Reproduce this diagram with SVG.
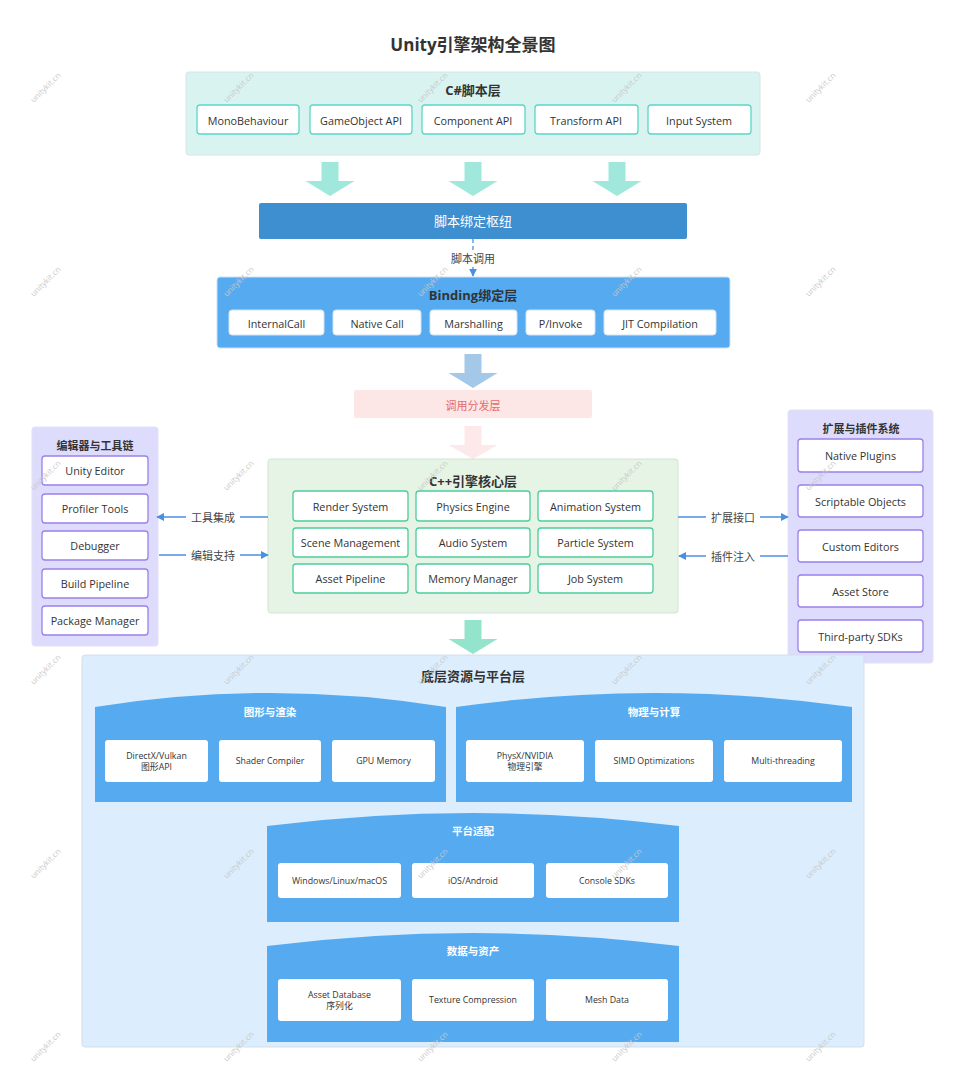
<svg xmlns="http://www.w3.org/2000/svg" width="965" height="1067" viewBox="0 0 965 1067">
<style>
text{font-family:"Open Sans","Noto Sans CJK SC",sans-serif;dominant-baseline:central;text-anchor:middle}
.title{font-size:17px;font-weight:bold;fill:#333}
.lt{font-size:13px;font-weight:bold;fill:#333}
.pt{font-size:11px;font-weight:bold;fill:#333}
.it{font-size:10.8px;fill:#333}
.st{font-size:10.5px;font-weight:bold;fill:#fff}
.bt{font-size:8.8px;fill:#333}
.cl{font-size:11px;fill:#444}
.wm{font-size:8px;fill:#c8c8c8}
.teal{fill:#fff;stroke:#5ad6c6;stroke-width:1.3}
.green{fill:#fff;stroke:#4ccd9c;stroke-width:1.3}
.purp{fill:#fff;stroke:#9a80e8;stroke-width:1.3}
.bind{fill:#fff;stroke:#cfe3f7;stroke-width:1}
.wbox{fill:#fff}
.sec{fill:#56abf0}
.conn{stroke:#4a90e2;stroke-width:1.5;fill:none}
</style>
<defs>
<marker id="ah" viewBox="0 0 10 10" refX="9" refY="5" markerWidth="8" markerHeight="8" orient="auto-start-reverse" markerUnits="userSpaceOnUse">
<path d="M0,0 L10,5 L0,10 z" fill="#4a90e2"/>
</marker>
</defs>
<rect width="965" height="1067" fill="#fff"/>
<text class="title" x="473" y="44">Unity引擎架构全景图</text>

<g id="csharp-layer">
<rect x="186" y="72" width="574" height="83" rx="3" fill="#d9f3f1" stroke="#d6e4e3"/>
<text class="lt" x="473" y="90">C#脚本层</text>
<rect class="teal" x="197" y="105" width="102" height="29" rx="3"/><text class="it" x="248" y="120">MonoBehaviour</text>
<rect class="teal" x="310" y="105" width="102" height="29" rx="3"/><text class="it" x="361" y="120">GameObject API</text>
<rect class="teal" x="422" y="105" width="103" height="29" rx="3"/><text class="it" x="473" y="120">Component API</text>
<rect class="teal" x="535" y="105" width="103" height="29" rx="3"/><text class="it" x="586" y="120">Transform API</text>
<rect class="teal" x="648" y="105" width="103" height="29" rx="3"/><text class="it" x="699" y="120">Input System</text>
</g>

<g id="arrows-flow">
<polygon points="321.5,162 338.5,162 338.5,181 354.5,181 330,196 305.5,181 321.5,181" fill="#a0e8dc"/>
<polygon points="464.5,162 481.5,162 481.5,181 497.5,181 473,196 448.5,181 464.5,181" fill="#a0e8dc"/>
<polygon points="608.5,162 625.5,162 625.5,181 641.5,181 617,196 592.5,181 608.5,181" fill="#a0e8dc"/>
<polygon points="464.5,354 481.5,354 481.5,373 497.5,373 473,388 448.5,373 464.5,373" fill="#a3c8e8"/>
<polygon points="464.5,426 481.5,426 481.5,445 497.5,445 473,459 448.5,445 464.5,445" fill="#fde9e9"/>
<polygon points="464.5,620 481.5,620 481.5,639 497.5,639 473,654 448.5,639 464.5,639" fill="#94e4cb"/>
</g>

<g id="binding-hub">
<rect x="259" y="203" width="428" height="36" rx="2" fill="#3d8fd0"/>
<text x="473" y="221" style="font-size:13px;fill:#fff">脚本绑定枢纽</text>
</g>

<g id="binding-layer">
<rect x="217" y="277" width="513" height="71" rx="3" fill="#56aaef" stroke="#cfe0f0"/>
<text class="lt" x="473" y="295">Binding绑定层</text>
<rect class="bind" x="229" y="310" width="95" height="25" rx="3"/><text class="it" x="276.5" y="323">InternalCall</text>
<rect class="bind" x="333" y="310" width="88" height="25" rx="3"/><text class="it" x="377" y="323">Native Call</text>
<rect class="bind" x="430" y="310" width="87" height="25" rx="3"/><text class="it" x="473.5" y="323">Marshalling</text>
<rect class="bind" x="526" y="310" width="69" height="25" rx="3"/><text class="it" x="560.5" y="323">P/Invoke</text>
<rect class="bind" x="604" y="310" width="112" height="25" rx="3"/><text class="it" x="660" y="323">JIT Compilation</text>
</g>

<g id="dispatch-layer">
<rect x="354" y="390" width="238" height="28" rx="2" fill="#fde6e6"/>
<text x="473" y="405" style="font-size:11px;fill:#e36a6a">调用分发层</text>
</g>

<g id="core-layer">
<rect x="268" y="459" width="410" height="154" rx="3" fill="#e5f4e5" stroke="#d3e3d3"/>
<text class="lt" x="473" y="481">C++引擎核心层</text>
<rect class="green" x="293" y="491" width="115" height="30" rx="3"/><text class="it" x="350.5" y="506">Render System</text>
<rect class="green" x="416" y="491" width="114" height="30" rx="3"/><text class="it" x="473" y="506">Physics Engine</text>
<rect class="green" x="538" y="491" width="115" height="30" rx="3"/><text class="it" x="595.5" y="506">Animation System</text>
<rect class="green" x="293" y="528" width="115" height="29" rx="3"/><text class="it" x="350.5" y="542.5">Scene Management</text>
<rect class="green" x="416" y="528" width="114" height="29" rx="3"/><text class="it" x="473" y="542.5">Audio System</text>
<rect class="green" x="538" y="528" width="115" height="29" rx="3"/><text class="it" x="595.5" y="542.5">Particle System</text>
<rect class="green" x="293" y="564" width="115" height="29" rx="3"/><text class="it" x="350.5" y="578.5">Asset Pipeline</text>
<rect class="green" x="416" y="564" width="114" height="29" rx="3"/><text class="it" x="473" y="578.5">Memory Manager</text>
<rect class="green" x="538" y="564" width="115" height="29" rx="3"/><text class="it" x="595.5" y="578.5">Job System</text>
</g>

<g id="editor-panel">
<rect x="32" y="427" width="126" height="219" rx="3" fill="#dedcfd" stroke="#e2e0f5"/>
<text class="pt" x="95" y="445">编辑器与工具链</text>
<rect class="purp" x="42" y="456" width="106" height="29" rx="3"/><text class="it" x="95" y="470.5">Unity Editor</text>
<rect class="purp" x="42" y="494" width="106" height="29" rx="3"/><text class="it" x="95" y="508.5">Profiler Tools</text>
<rect class="purp" x="42" y="531" width="106" height="29" rx="3"/><text class="it" x="95" y="545.5">Debugger</text>
<rect class="purp" x="42" y="569" width="106" height="29" rx="3"/><text class="it" x="95" y="583.5">Build Pipeline</text>
<rect class="purp" x="42" y="606" width="106" height="29" rx="3"/><text class="it" x="95" y="620.5">Package Manager</text>
</g>

<g id="plugin-panel">
<rect x="788" y="410" width="145" height="253" rx="3" fill="#dedcfd" stroke="#e2e0f5"/>
<text class="pt" x="861" y="428">扩展与插件系统</text>
<rect class="purp" x="798" y="439" width="125" height="33" rx="3"/><text class="it" x="860.5" y="455.5">Native Plugins</text>
<rect class="purp" x="798" y="485" width="125" height="32" rx="3"/><text class="it" x="860.5" y="501">Scriptable Objects</text>
<rect class="purp" x="798" y="530" width="125" height="32" rx="3"/><text class="it" x="860.5" y="546">Custom Editors</text>
<rect class="purp" x="798" y="575" width="125" height="32" rx="3"/><text class="it" x="860.5" y="591">Asset Store</text>
<rect class="purp" x="798" y="620" width="125" height="32" rx="3"/><text class="it" x="860.5" y="636">Third-party SDKs</text>
</g>

<g id="platform-layer">
<rect x="82" y="655" width="782" height="392" rx="3" fill="#dcedfd" stroke="#d3dfea"/>
<text class="lt" x="473" y="676">底层资源与平台层</text>
<g id="graphics">
<path class="sec" d="M95,707 Q270,679 446,707 L446,802 L95,802 Z"/>
<text class="st" x="270" y="712">图形与渲染</text>
<rect class="wbox" x="105" y="740" width="103" height="42" rx="3"/><text class="bt" x="156.5" y="755.5">DirectX/Vulkan</text><text class="bt" x="156.5" y="767">图形API</text>
<rect class="wbox" x="219" y="740" width="102" height="42" rx="3"/><text class="bt" x="270" y="761">Shader Compiler</text>
<rect class="wbox" x="332" y="740" width="103" height="42" rx="3"/><text class="bt" x="383.5" y="761">GPU Memory</text>
</g>
<g id="physics">
<path class="sec" d="M456,707 Q654,679 852,707 L852,802 L456,802 Z"/>
<text class="st" x="654" y="712">物理与计算</text>
<rect class="wbox" x="466" y="740" width="118" height="42" rx="3"/><text class="bt" x="525" y="755.5">PhysX/NVIDIA</text><text class="bt" x="525" y="767">物理引擎</text>
<rect class="wbox" x="595" y="740" width="118" height="42" rx="3"/><text class="bt" x="654" y="761">SIMD Optimizations</text>
<rect class="wbox" x="724" y="740" width="118" height="42" rx="3"/><text class="bt" x="783" y="761">Multi-threading</text>
</g>
<g id="platform">
<path class="sec" d="M267,826 Q473,800 679,826 L679,922 L267,922 Z"/>
<text class="st" x="473" y="831">平台适配</text>
<rect class="wbox" x="278" y="863" width="123" height="35" rx="3"/><text class="bt" x="339.5" y="880.5">Windows/Linux/macOS</text>
<rect class="wbox" x="412" y="863" width="122" height="35" rx="3"/><text class="bt" x="473" y="880.5">iOS/Android</text>
<rect class="wbox" x="546" y="863" width="122" height="35" rx="3"/><text class="bt" x="607" y="880.5">Console SDKs</text>
</g>
<g id="data">
<path class="sec" d="M267,946 Q473,920 679,946 L679,1042 L267,1042 Z"/>
<text class="st" x="473" y="951">数据与资产</text>
<rect class="wbox" x="278" y="979" width="123" height="42" rx="3"/><text class="bt" x="339.5" y="994.5">Asset Database</text><text class="bt" x="339.5" y="1006">序列化</text>
<rect class="wbox" x="412" y="979" width="122" height="42" rx="3"/><text class="bt" x="473" y="1000">Texture Compression</text>
<rect class="wbox" x="546" y="979" width="122" height="42" rx="3"/><text class="bt" x="607" y="1000">Mesh Data</text>
</g>
</g>

<g id="connectors">
<line x1="473" y1="239" x2="473" y2="276" stroke="#4a90e2" stroke-width="1.3" stroke-dasharray="4,3" marker-end="url(#ah)"/>
<rect x="448" y="250" width="50" height="16" fill="#fff"/>
<text class="cl" x="473" y="258">脚本调用</text>
<line class="conn" x1="268" y1="517" x2="157" y2="517" marker-end="url(#ah)"/>
<rect x="186" y="509" width="54" height="16" fill="#fff"/>
<text class="cl" x="213" y="517">工具集成</text>
<line class="conn" x1="159" y1="555" x2="268" y2="555" marker-end="url(#ah)"/>
<rect x="186" y="547" width="54" height="16" fill="#fff"/>
<text class="cl" x="213" y="555">编辑支持</text>
<line class="conn" x1="678" y1="517" x2="788" y2="517" marker-end="url(#ah)"/>
<rect x="706" y="509" width="54" height="16" fill="#fff"/>
<text class="cl" x="733" y="517">扩展接口</text>
<line class="conn" x1="788" y1="556" x2="679" y2="556" marker-end="url(#ah)"/>
<rect x="706" y="548" width="54" height="16" fill="#fff"/>
<text class="cl" x="733" y="556">插件注入</text>
</g>

<g id="watermarks">
<text class="wm" transform="translate(45,87) rotate(-45)">unitykit.cn</text>
<text class="wm" transform="translate(238,87) rotate(-45)">unitykit.cn</text>
<text class="wm" transform="translate(432,87) rotate(-45)">unitykit.cn</text>
<text class="wm" transform="translate(626,87) rotate(-45)">unitykit.cn</text>
<text class="wm" transform="translate(820,87) rotate(-45)">unitykit.cn</text>
<text class="wm" transform="translate(45,281) rotate(-45)">unitykit.cn</text>
<text class="wm" transform="translate(238,281) rotate(-45)">unitykit.cn</text>
<text class="wm" transform="translate(432,281) rotate(-45)">unitykit.cn</text>
<text class="wm" transform="translate(626,281) rotate(-45)">unitykit.cn</text>
<text class="wm" transform="translate(820,281) rotate(-45)">unitykit.cn</text>
<text class="wm" transform="translate(45,475) rotate(-45)">unitykit.cn</text>
<text class="wm" transform="translate(238,475) rotate(-45)">unitykit.cn</text>
<text class="wm" transform="translate(432,475) rotate(-45)">unitykit.cn</text>
<text class="wm" transform="translate(626,475) rotate(-45)">unitykit.cn</text>
<text class="wm" transform="translate(820,475) rotate(-45)">unitykit.cn</text>
<text class="wm" transform="translate(45,669) rotate(-45)">unitykit.cn</text>
<text class="wm" transform="translate(238,669) rotate(-45)">unitykit.cn</text>
<text class="wm" transform="translate(432,669) rotate(-45)">unitykit.cn</text>
<text class="wm" transform="translate(626,669) rotate(-45)">unitykit.cn</text>
<text class="wm" transform="translate(820,669) rotate(-45)">unitykit.cn</text>
<text class="wm" transform="translate(45,863) rotate(-45)">unitykit.cn</text>
<text class="wm" transform="translate(238,863) rotate(-45)">unitykit.cn</text>
<text class="wm" transform="translate(432,863) rotate(-45)">unitykit.cn</text>
<text class="wm" transform="translate(626,863) rotate(-45)">unitykit.cn</text>
<text class="wm" transform="translate(820,863) rotate(-45)">unitykit.cn</text>
<text class="wm" transform="translate(45,1046) rotate(-45)">unitykit.cn</text>
<text class="wm" transform="translate(238,1046) rotate(-45)">unitykit.cn</text>
<text class="wm" transform="translate(432,1046) rotate(-45)">unitykit.cn</text>
<text class="wm" transform="translate(626,1046) rotate(-45)">unitykit.cn</text>
<text class="wm" transform="translate(820,1046) rotate(-45)">unitykit.cn</text>
</g>
</svg>
